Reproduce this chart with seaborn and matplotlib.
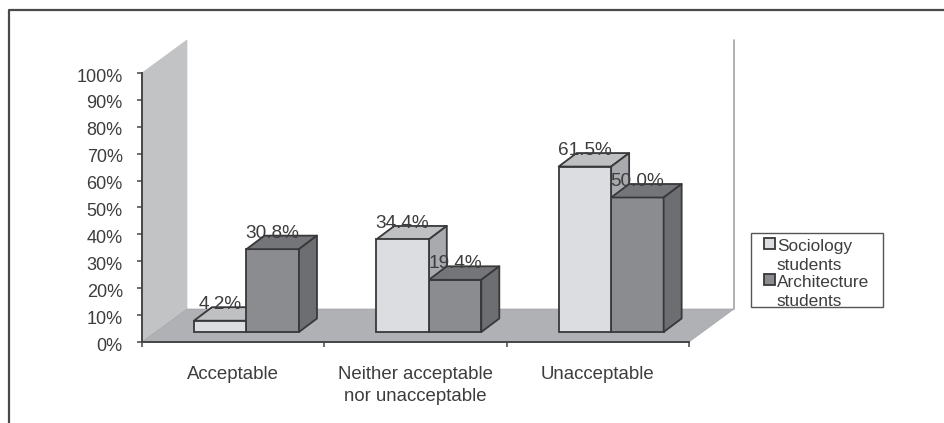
import matplotlib
matplotlib.use("Agg")
import matplotlib.pyplot as plt
import pandas as pd
import seaborn as sns
from matplotlib.patches import Polygon, Rectangle
from matplotlib.transforms import Affine2D

# Datos
categorias = ["Acceptable", "Neither acceptable\nnor unacceptable", "Unacceptable"]
sociologia = [4.2, 34.4, 61.5]
arquitectura = [30.8, 19.4, 50.0]
grupos = ["Sociology\nstudents", "Architecture\nstudents"]
ticks_y = list(range(0, 101, 10))

tabla = pd.DataFrame({
    "categoria": categorias * 2,
    "grupo": [grupos[0]] * 3 + [grupos[1]] * 3,
    "valor": sociologia + arquitectura,
})

sns.set_theme(style="white")
plt.rcParams["font.family"] = ["Liberation Sans", "DejaVu Sans"]
TEXTO = "#3d3d3f"
BORDE = "#38383a"

W, H = 944, 423
fig = plt.figure(figsize=(W / 100, H / 100), dpi=100)
# ejes en pixeles: x 142-689, y 73-342
ax = fig.add_axes([142 / W, (H - 342) / H, 547 / W, 269 / H])

sns.barplot(data=tabla, x="categoria", y="valor", hue="grupo", hue_order=grupos,
            order=categorias, palette=["#dcdde0", "#8b8c90"], width=0.576, gap=0,
            saturation=1, edgecolor=BORDE, linewidth=1.3, ax=ax)
ax.set_xlim(-0.5, 2.5)
ax.set_ylim(0, 100)
ax.set_xlabel("")
ax.set_ylabel("")

# pixeles a unidades de datos
px = 3 / 547
py = 100 / 269


def cara(puntos, color, z, borde=BORDE, lw=1.3):
    ax.add_patch(Polygon(puntos, closed=True, facecolor=color, edgecolor=borde,
                         linewidth=lw, zorder=z, clip_on=False, joinstyle="round"))


# paredes y piso de la caja 3D
fondo_x, fondo_y = 45 * px, 33 * py
cara([(-0.5, 0), (-0.5 + fondo_x, fondo_y), (-0.5 + fondo_x, 100 + fondo_y), (-0.5, 100)],
     "#c2c3c5", 0.5, borde="#c2c3c5", lw=0.5)
cara([(-0.5, 0), (2.5, 0), (2.5 + fondo_x, fondo_y), (-0.5 + fondo_x, fondo_y)],
     "#b0b1b4", 0.6, borde="#a5a6a9", lw=0.5)
ax.plot([2.5 + fondo_x] * 2, [fondo_y, 100 + fondo_y], color="#a3a3a6", lw=1.2,
        clip_on=False, zorder=0.7)

# barras con profundidad
prof_x, prof_y = 18 * px, 13.5 * py
colores = [("#bfc0c2", "#a9aaad"), ("#747578", "#6d6e71")]
for n, barras in enumerate(ax.containers):
    tope, lado = colores[n]
    for b in barras:
        # las barras van en medio de la profundidad del piso
        b.set_x(b.get_x() + 13.3 * px)
        b.set_y(10 * py)
        b.set_clip_on(False)
        b.set_zorder(5 if n == 0 else 4)
        x0, x1 = b.get_x(), b.get_x() + b.get_width()
        y0, y1 = b.get_y(), b.get_y() + b.get_height()
        z = 3 if n == 0 else 4
        cara([(x0, y1), (x1, y1), (x1 + prof_x, y1 + prof_y), (x0 + prof_x, y1 + prof_y)], tope, z)
        cara([(x1, y0), (x1 + prof_x, y0 + prof_y), (x1 + prof_x, y1 + prof_y), (x1, y1)], lado, z)
    etiquetas = ax.bar_label(barras, labels=[f"{v:.1f}%" for v in barras.datavalues],
                             padding=5.5, fontsize=13.7, color=TEXTO)
    for e in etiquetas:
        e.set_zorder(4.5)

# ejes
for lado in ["top", "right"]:
    ax.spines[lado].set_visible(False)
for lado in ["left", "bottom"]:
    ax.spines[lado].set_color("#454547")
    ax.spines[lado].set_linewidth(1.4)
    ax.spines[lado].set_zorder(6)
ax.set_yticks(ticks_y)
ax.set_yticklabels([f"{t}%" for t in ticks_y])
ax.set_xticks([-0.5, 0.5, 1.5, 2.5], labels=[""] * 4)
ax.tick_params(axis="y", direction="out", left=True, length=3.8, width=1.1, color="#454547",
               pad=10, labelsize=13, labelcolor=TEXTO)
ax.tick_params(axis="x", direction="out", bottom=True, length=3.8, width=1.1, color="#454547")
for t in ax.get_yticklabels():
    t.set_transform(t.get_transform() + Affine2D().translate(0, -2))
for i, c in enumerate(categorias):
    ax.text(i, -23.5 * py, c, ha="center", va="top", fontsize=13.4, color=TEXTO, linespacing=1.4)

# leyenda: el marco va aparte porque el texto toca el borde inferior
fig.add_artist(Rectangle((751 / W, (H - 307) / H), 132 / W, 74 / H, transform=fig.transFigure,
                         facecolor="white", edgecolor="#555557", linewidth=1.0, zorder=6))
sns.move_legend(ax, "lower left", bbox_to_anchor=(764 / W, (H - 309) / H),
                bbox_transform=fig.transFigure, title=None, frameon=False,
                fontsize=12.4, labelcolor=TEXTO,
                borderpad=0.0, labelspacing=0.12, handlelength=0.62, handleheight=0.62,
                handletextpad=0.12, borderaxespad=0)
leyenda = ax.get_legend()
leyenda.set_zorder(7)
leyenda.remove()
fig.add_artist(leyenda)
for t in leyenda.get_texts():
    t.set_linespacing(1.32)
for h in leyenda.get_patches():
    h.set_y(h.get_y() + 9)

# marco de la pagina
fig.add_artist(plt.Line2D([9 / W, 9 / W, 1], [0, (H - 10) / H, (H - 10) / H],
                          color="#4a4a4a", lw=1.6, transform=fig.transFigure))

fig.savefig("out.png", dpi=100, facecolor="white")
